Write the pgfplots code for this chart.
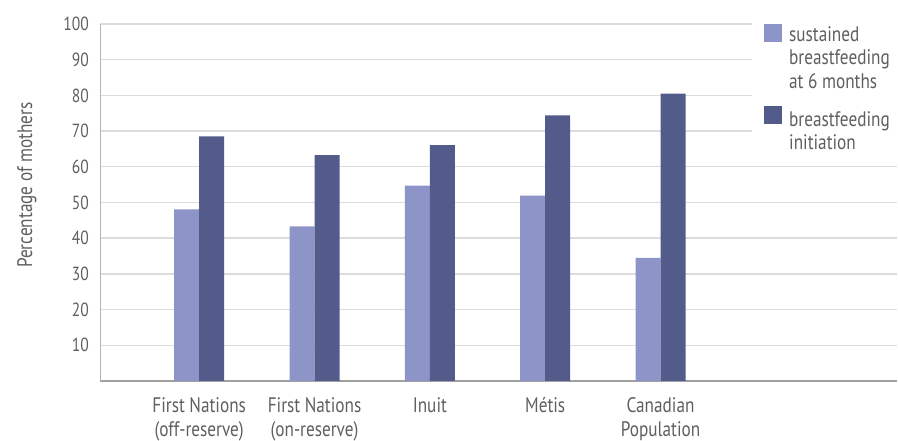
\documentclass[border=0pt]{standalone}
\usepackage{fontspec}
\setmainfont{PT Sans}[FakeStretch=0.82]
\usepackage{pgfplots}
\pgfplotsset{compat=1.18}
\definecolor{lightbar}{RGB}{141,148,200}
\definecolor{darkbar}{RGB}{83,91,138}
\definecolor{gridc}{RGB}{220,220,220}
\definecolor{axisc}{RGB}{160,160,160}
\definecolor{txt}{RGB}{95,95,95}
\begin{document}
\begin{tikzpicture}[x=1pt,y=1pt]
\path[use as bounding box] (0,0) rectangle (898,441);
\begin{axis}[
  at={(100pt,60pt)}, anchor=south west,
  scale only axis, width=797pt, height=357pt,
  ybar=0pt, bar width=25pt,
  xmin=-0.86, xmax=6.05, ymin=0, ymax=100,
  xtick={0,1,2,3,4},
  xticklabels={{First Nations\\(off-reserve)},{First Nations\\(on-reserve)},Inuit,Métis,{Canadian\\Population}},
  ytick={10,20,30,40,50,60,70,80,90,100},
  /pgf/number format/assume math mode=true,
  axis x line*=bottom, axis y line*=left,
  x axis line style={-, color=axisc, line width=1.3pt},
  y axis line style={-, color=axisc!80, line width=0.9pt},
  tick style={draw=none},
  ymajorgrids, grid style={gridc, line width=1.4pt},
  yticklabel style={font=\fontsize{19}{22}\selectfont, color=txt, inner sep=0pt, xshift=-11pt},
  xticklabel style={font=\fontsize{21}{24.5}\selectfont, color=txt, align=center, inner sep=0pt, anchor=north, yshift=-12pt},
  ylabel={Percentage of mothers},
  ylabel style={font=\fontsize{21}{23.5}\selectfont, color=txt, at={(axis description cs:-0.0916,0.549)}, anchor=center},
  legend style={at={(axis description cs:0.818,1.017)}, anchor=north west, draw=none, fill=white,
    inner xsep=12pt, inner ysep=6pt, row sep=14pt, column sep=5pt,
    font=\fontsize{21}{23.5}\selectfont, text=txt},
  legend cell align=left,
]
\addplot[fill=lightbar, draw=none, legend image code/.code={\fill[lightbar] (0pt,16pt) rectangle (18pt,34pt);}]
  coordinates {(0,48.1) (1,43.3) (2,54.7) (3,51.9) (4,34.5)};
\addlegendentry{\parbox[b]{100pt}{\raggedright sustained\\breastfeeding\\at 6 months}}
\addplot[fill=darkbar, draw=none, legend image code/.code={\fill[darkbar] (0pt,7.5pt) rectangle (18pt,25.5pt);}]
  coordinates {(0,68.5) (1,63.3) (2,66.1) (3,74.4) (4,80.5)};
\addlegendentry{\parbox[b]{100pt}{\raggedright breastfeeding\\initiation}}
\end{axis}
\end{tikzpicture}
\end{document}
